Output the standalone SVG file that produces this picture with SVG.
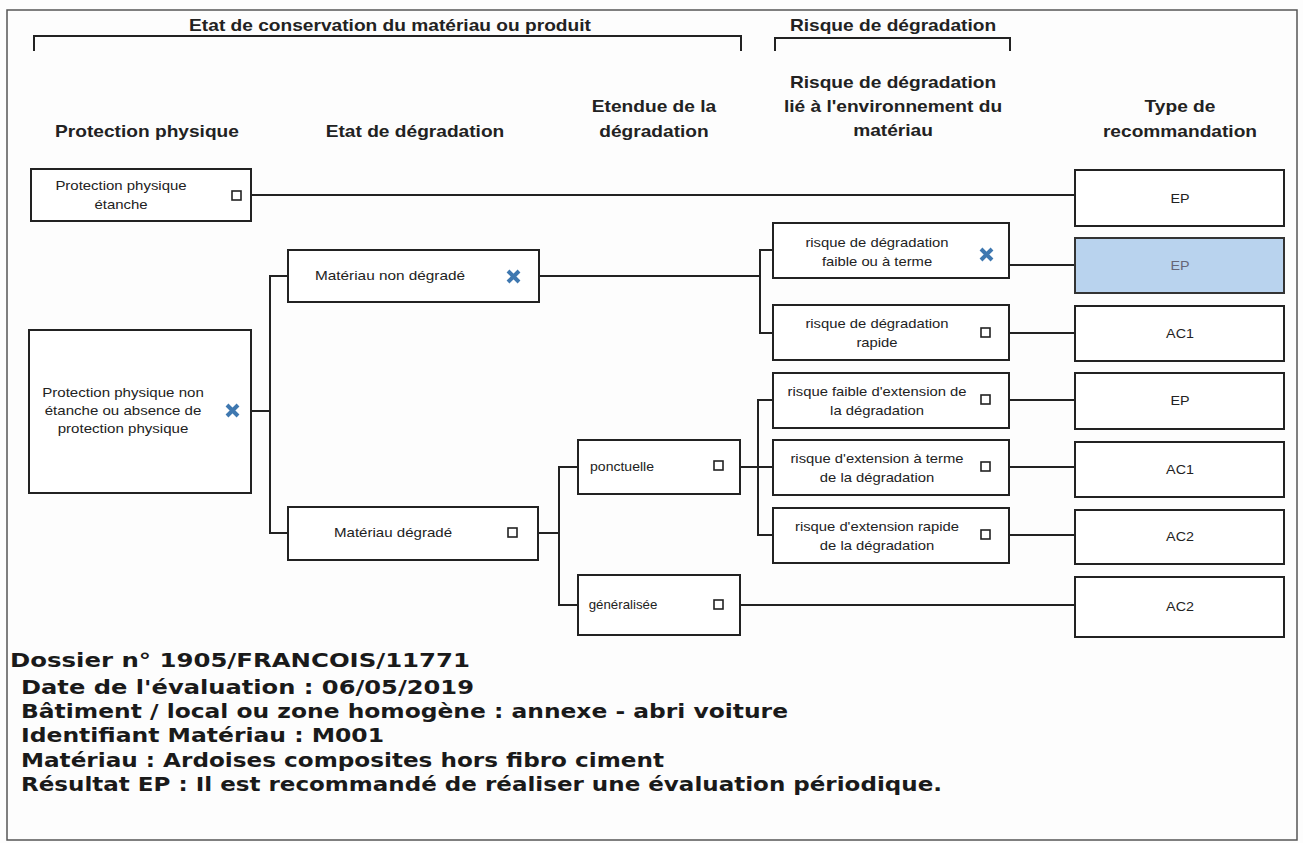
<svg xmlns="http://www.w3.org/2000/svg" width="1303" height="843" viewBox="0 0 1303 843">
<style>
.bg{fill:#fdfdfd}
.frame{fill:none;stroke:#555;stroke-width:1.5}
.br{fill:none;stroke:#222;stroke-width:2}
.box{fill:#fff;stroke:#222;stroke-width:2}
.hl{fill:#b9d3ee;stroke:#333;stroke-width:2}
.ln{fill:none;stroke:#222;stroke-width:2}
.hd{font-family:"Liberation Sans",Arial,sans-serif;font-weight:bold;font-size:16.5px;fill:#222;text-anchor:middle}
.t{font-family:"Liberation Sans",Arial,sans-serif;font-size:13px;fill:#222;text-anchor:middle}
.cb{fill:#fff;stroke:#222;stroke-width:1.6}
.x{fill:none;stroke:#3f78b0;stroke-width:4;stroke-linecap:butt}
.ft{font-family:"DejaVu Sans",Verdana,sans-serif;font-weight:bold;font-size:20px;fill:#1a1a1a}
</style>
<rect class="bg" x="0" y="0" width="1303" height="843"/>
<rect class="frame" x="7" y="10" width="1290" height="830"/>
<g id="headers">
<text class="hd" transform="matrix(1.16,0,0,1,390,0)" y="31">Etat de conservation du matériau ou produit</text>
<path class="br" d="M34,51 V36 H741 V51"/>
<text class="hd" transform="matrix(1.16,0,0,1,893,0)" y="31">Risque de dégradation</text>
<path class="br" d="M775,51 V38 H1010 V51"/>
<text class="hd" transform="matrix(1.16,0,0,1,147,0)" y="137">Protection physique</text>
<text class="hd" transform="matrix(1.16,0,0,1,415,0)" y="137">Etat de dégradation</text>
<text class="hd" transform="matrix(1.16,0,0,1,654,0)" y="112">Etendue de la</text>
<text class="hd" transform="matrix(1.16,0,0,1,654,0)" y="137">dégradation</text>
<text class="hd" transform="matrix(1.16,0,0,1,893,0)" y="88">Risque de dégradation</text>
<text class="hd" transform="matrix(1.16,0,0,1,893,0)" y="112">lié à l'environnement du</text>
<text class="hd" transform="matrix(1.16,0,0,1,893,0)" y="136">matériau</text>
<text class="hd" transform="matrix(1.16,0,0,1,1180,0)" y="112">Type de</text>
<text class="hd" transform="matrix(1.16,0,0,1,1180,0)" y="137">recommandation</text>
</g>
<g id="connectors">
<path class="ln" d="M251,195 H1075"/>
<path class="ln" d="M251,411 H270 M288,276 H270 V533 H288"/>
<path class="ln" d="M539,276 H760 M773,250 H760 V333 H773"/>
<path class="ln" d="M1009,265 H1075 M1009,333 H1075"/>
<path class="ln" d="M538,533 H559 M578,467 H559 V605 H578"/>
<path class="ln" d="M740,467 H773 M773,400 H758 V535 H773"/>
<path class="ln" d="M1009,400 H1075 M1009,467 H1075 M1009,535 H1075"/>
<path class="ln" d="M740,605 H1075"/>
</g>
<g id="n_etanche">
<rect class="box" x="31" y="169" width="220" height="52"/>
<text class="t" transform="matrix(1.15,0,0,1,121,0)" y="190">Protection physique</text>
<text class="t" transform="matrix(1.15,0,0,1,121,0)" y="209">étanche</text>
<rect class="cb" x="232" y="191" width="9" height="9"/>
</g>
<g id="n_non_etanche">
<rect class="box" x="29" y="330" width="222" height="163"/>
<text class="t" transform="matrix(1.16,0,0,1,123,0)" y="397">Protection physique non</text>
<text class="t" transform="matrix(1.16,0,0,1,123,0)" y="415">étanche ou absence de</text>
<text class="t" transform="matrix(1.16,0,0,1,123,0)" y="433">protection physique</text>
<path class="x" d="M227,405 L238,416 M238,405 L227,416"/>
</g>
<g id="n_non_degrade">
<rect class="box" x="288" y="250" width="251" height="52"/>
<text class="t" transform="matrix(1.18,0,0,1,390,0)" y="280">Matériau non dégradé</text>
<path class="x" d="M508,271 L519,282 M519,271 L508,282"/>
</g>
<g id="n_degrade">
<rect class="box" x="288" y="507" width="250" height="53"/>
<text class="t" transform="matrix(1.16,0,0,1,393,0)" y="537">Matériau dégradé</text>
<rect class="cb" x="508" y="528" width="9" height="9"/>
</g>
<g id="n_ponctuelle">
<rect class="box" x="578" y="440" width="162" height="54"/>
<text class="t" transform="matrix(1.08,0,0,1,622,0)" y="471">ponctuelle</text>
<rect class="cb" x="714" y="461" width="9" height="9"/>
</g>
<g id="n_generalisee">
<rect class="box" x="578" y="575" width="162" height="60"/>
<text class="t" transform="matrix(1.02,0,0,1,623,0)" y="609">généralisée</text>
<rect class="cb" x="714" y="600" width="9" height="9"/>
</g>
<g id="n_r1">
<rect class="box" x="773" y="223" width="236" height="55"/>
<text class="t" transform="matrix(1.14,0,0,1,877,0)" y="247">risque de dégradation</text>
<text class="t" transform="matrix(1.14,0,0,1,877,0)" y="266">faible ou à terme</text>
<path class="x" d="M981,249 L992,260 M992,249 L981,260"/>
</g>
<g id="n_r2">
<rect class="box" x="773" y="305" width="236" height="55"/>
<text class="t" transform="matrix(1.14,0,0,1,877,0)" y="328">risque de dégradation</text>
<text class="t" transform="matrix(1.14,0,0,1,877,0)" y="347">rapide</text>
<rect class="cb" x="981" y="328" width="9" height="9"/>
</g>
<g id="n_r3">
<rect class="box" x="773" y="373" width="236" height="55"/>
<text class="t" transform="matrix(1.14,0,0,1,877,0)" y="396">risque faible d'extension de</text>
<text class="t" transform="matrix(1.14,0,0,1,877,0)" y="415">la dégradation</text>
<rect class="cb" x="981" y="395" width="9" height="9"/>
</g>
<g id="n_r4">
<rect class="box" x="773" y="440" width="236" height="55"/>
<text class="t" transform="matrix(1.14,0,0,1,877,0)" y="463">risque d'extension à terme</text>
<text class="t" transform="matrix(1.14,0,0,1,877,0)" y="482">de la dégradation</text>
<rect class="cb" x="981" y="462" width="9" height="9"/>
</g>
<g id="n_r5">
<rect class="box" x="773" y="508" width="236" height="55"/>
<text class="t" transform="matrix(1.14,0,0,1,877,0)" y="531">risque d'extension rapide</text>
<text class="t" transform="matrix(1.14,0,0,1,877,0)" y="550">de la dégradation</text>
<rect class="cb" x="981" y="530" width="9" height="9"/>
</g>
<g id="n_t1"><rect class="box" x="1075" y="170" width="209" height="56"/><text class="t" transform="matrix(1.1,0,0,1,1180,0)" y="203">EP</text></g>
<g id="n_t2"><rect class="hl" x="1075" y="238" width="209" height="55"/><text class="t" transform="matrix(1.1,0,0,1,1180,0)" y="270" style="fill:#667">EP</text></g>
<g id="n_t3"><rect class="box" x="1075" y="306" width="209" height="55"/><text class="t" transform="matrix(1.1,0,0,1,1180,0)" y="338">AC1</text></g>
<g id="n_t4"><rect class="box" x="1075" y="373" width="209" height="56"/><text class="t" transform="matrix(1.1,0,0,1,1180,0)" y="405">EP</text></g>
<g id="n_t5"><rect class="box" x="1075" y="442" width="209" height="55"/><text class="t" transform="matrix(1.1,0,0,1,1180,0)" y="474">AC1</text></g>
<g id="n_t6"><rect class="box" x="1075" y="510" width="209" height="54"/><text class="t" transform="matrix(1.1,0,0,1,1180,0)" y="541">AC2</text></g>
<g id="n_t7"><rect class="box" x="1075" y="577" width="209" height="60"/><text class="t" transform="matrix(1.1,0,0,1,1180,0)" y="611">AC2</text></g>
<g id="footer">
<text class="ft" x="10" y="667" textLength="460" lengthAdjust="spacingAndGlyphs">Dossier n° 1905/FRANCOIS/11771</text>
<text class="ft" x="21" y="694" textLength="453" lengthAdjust="spacingAndGlyphs">Date de l'évaluation : 06/05/2019</text>
<text class="ft" x="21" y="718" textLength="767" lengthAdjust="spacingAndGlyphs">Bâtiment / local ou zone homogène : annexe - abri voiture</text>
<text class="ft" x="21" y="742" textLength="363" lengthAdjust="spacingAndGlyphs">Identifiant Matériau : M001</text>
<text class="ft" x="21" y="767" textLength="643" lengthAdjust="spacingAndGlyphs">Matériau : Ardoises composites hors fibro ciment</text>
<text class="ft" x="21" y="791" textLength="921" lengthAdjust="spacingAndGlyphs">Résultat EP : Il est recommandé de réaliser une évaluation périodique.</text>
</g>
</svg>
